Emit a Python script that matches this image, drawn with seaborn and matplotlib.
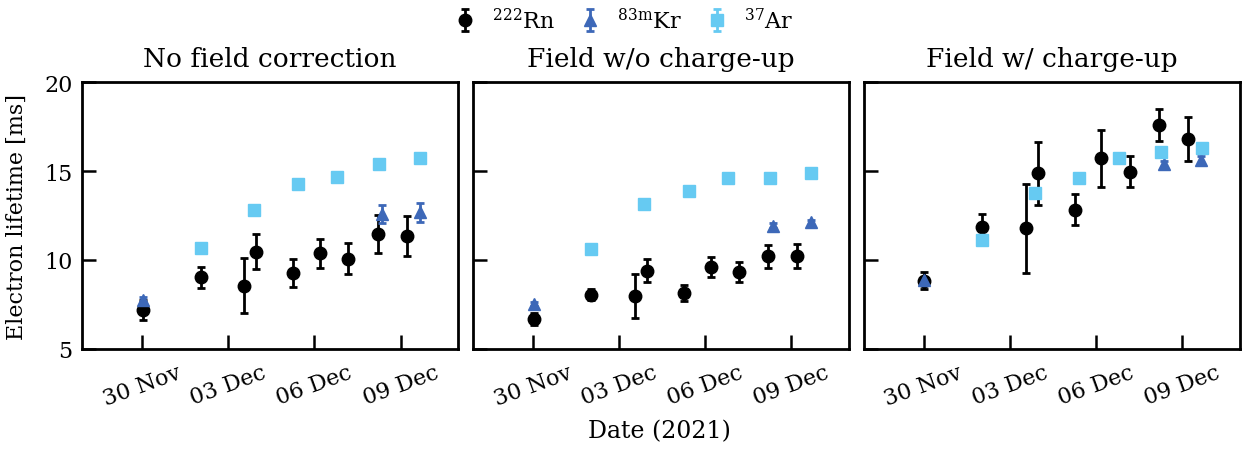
import pandas as pd
import matplotlib
matplotlib.use("Agg")
import matplotlib.pyplot as plt
import matplotlib.dates as mdates
import numpy as np
import seaborn as sns

# Fechas de las medidas (dias desde 30 Nov 2021)
rn_days = [0.03, 2.04, 3.55, 3.98, 5.26, 6.19, 7.18, 8.20, 9.21]
kr_days = [0.03, 8.37, 9.67]
ar_days = [2.04, 3.88, 5.42, 6.80, 8.26, 9.68]

panels = ["No field correction", "Field w/o charge-up", "Field w/ charge-up"]

# Rn-222
rn_vals = [
    [7.19, 9.03, 8.56, 10.47, 9.27, 10.37, 10.06, 11.46, 11.37],
    [6.67, 8.05, 7.96, 9.40, 8.16, 9.62, 9.33, 10.20, 10.20],
    [8.84, 11.84, 11.78, 14.87, 12.83, 15.73, 14.96, 17.60, 16.80],
]
rn_errs = [
    [0.55, 0.58, 1.55, 1.00, 0.80, 0.80, 0.87, 1.08, 1.12],
    [0.33, 0.33, 1.25, 0.63, 0.45, 0.57, 0.56, 0.63, 0.68],
    [0.50, 0.73, 2.50, 1.77, 0.88, 1.60, 0.87, 0.90, 1.26],
]

# Kr-83m
kr_vals = [
    [7.77, 12.58, 12.68],
    [7.53, 11.93, 12.12],
    [8.90, 15.39, 15.63],
]
kr_errs = [
    [0.12, 0.50, 0.52],
    [0.12, 0.15, 0.15],
    [0.15, 0.20, 0.20],
]

# Ar-37
ar_vals = [
    [10.67, 12.83, 14.25, 14.64, 15.39, 15.75],
    [10.62, 13.16, 13.86, 14.62, 14.59, 14.87],
    [11.12, 13.76, 14.61, 15.73, 16.10, 16.29],
]
ar_errs = [
    [0.12, 0.12, 0.12, 0.22, 0.25, 0.20],
    [0.10, 0.10, 0.10, 0.25, 0.12, 0.12],
    [0.12, 0.12, 0.10, 0.12, 0.20, 0.20],
]

start = pd.Timestamp("2021-11-30")


def to_dates(days):
    return [start + pd.Timedelta(days=d) for d in days]


sns.set_theme(style="ticks")
plt.rcParams["font.family"] = ["DejaVu Serif"]
plt.rcParams["mathtext.fontset"] = "dejavuserif"
plt.rcParams["text.color"] = "black"
plt.rcParams["axes.labelcolor"] = "black"
plt.rcParams["xtick.color"] = "black"
plt.rcParams["ytick.color"] = "black"
plt.rcParams["axes.edgecolor"] = "black"

colors = {"rn": "black", "kr": "#3d68b8", "ar": "#66caf2"}

fig, axes = plt.subplots(1, 3, figsize=(12.47, 4.52), dpi=100, sharey=True)
fig.subplots_adjust(left=0.066, right=0.994, top=0.816, bottom=0.226, wspace=0.04)

eb = dict(linestyle="none", capsize=3, capthick=2, elinewidth=2)
for i, ax in enumerate(axes):
    ax.errorbar(to_dates(rn_days), rn_vals[i], yerr=rn_errs[i], fmt="o",
                color=colors["rn"], markersize=9, label=r"$^{222}$Rn", **eb)
    ax.errorbar(to_dates(kr_days), kr_vals[i], yerr=kr_errs[i], fmt="^",
                color=colors["kr"], markersize=9, label=r"$^{83\mathrm{m}}$Kr", **eb)
    ax.errorbar(to_dates(ar_days), ar_vals[i], yerr=ar_errs[i], fmt="s",
                color=colors["ar"], markersize=8, label=r"$^{37}$Ar", **eb)

    ax.set_title(panels[i], fontsize=19, pad=12)
    ax.set_ylim(5, 20)
    ax.set_yticks([5, 10, 15, 20])
    ax.set_xlim(pd.Timestamp("2021-11-27 22:00"), pd.Timestamp("2021-12-11 00:00"))
    ax.xaxis.set_major_locator(mdates.DayLocator(bymonthday=[30, 3, 6, 9]))
    ax.xaxis.set_major_formatter(mdates.DateFormatter("%d %b"))
    ax.tick_params(direction="in", length=10, width=1.8, labelsize=16)
    ax.tick_params(axis="x", pad=9)
    ax.tick_params(axis="y", pad=7)
    for lab in ax.get_xticklabels():
        lab.set_rotation(20)
        lab.set_ha("center")
    for s in ax.spines.values():
        s.set_linewidth(2)

axes[0].set_ylabel("Electron lifetime [ms]", fontsize=16, labelpad=12)
fig.text(0.529, 0.03, "Date (2021)", ha="center", fontsize=17)

handles, labels = axes[0].get_legend_handles_labels()
fig.legend(handles, labels, loc="upper center", ncol=3, frameon=False,
           fontsize=16, bbox_to_anchor=(0.499, 1.025), handlelength=1.2,
           handletextpad=0.6, columnspacing=1.0)

fig.savefig("out.png", dpi=100)
